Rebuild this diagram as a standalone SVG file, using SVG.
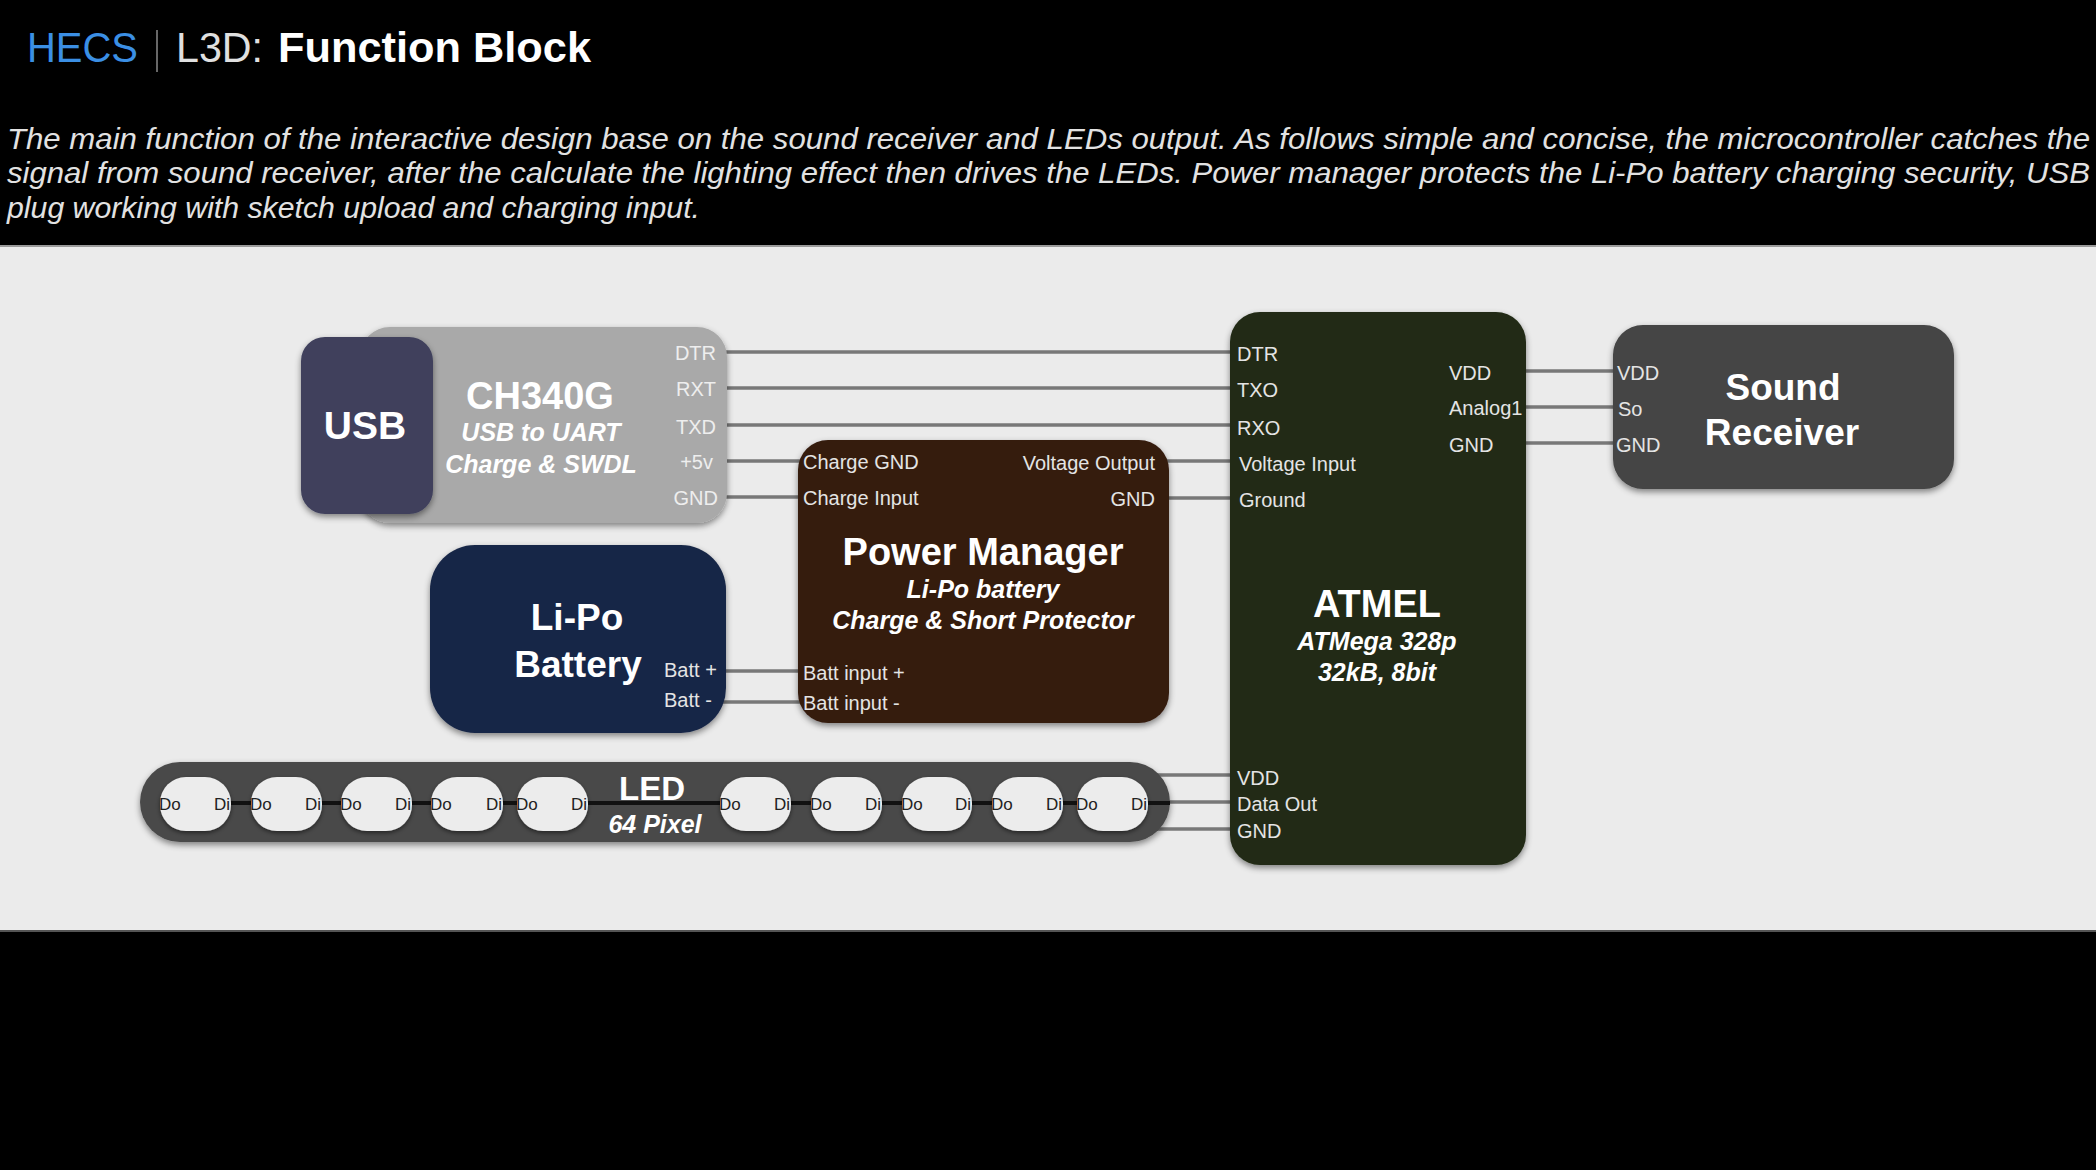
<svg xmlns="http://www.w3.org/2000/svg" width="2096" height="1170" viewBox="0 0 2096 1170">
<defs>
<filter id="sh" x="-10%" y="-10%" width="120%" height="130%">
<feDropShadow dx="0" dy="3" stdDeviation="3" flood-color="#000" flood-opacity="0.45"/>
</filter>
<filter id="sh2" x="-20%" y="-20%" width="140%" height="150%">
<feDropShadow dx="0" dy="2" stdDeviation="2" flood-color="#000" flood-opacity="0.5"/>
</filter>
</defs>
<style>
text{font-family:"Liberation Sans",Arial,Helvetica,sans-serif}
.pin{font-size:20px;fill:#e4e4e4}
.pinc{font-size:20px;fill:#eeeeee}
.ttl{font-weight:bold;fill:#ffffff;text-anchor:middle}
.sub{font-weight:bold;font-style:italic;fill:#ffffff;text-anchor:middle;font-size:25px}
.wire{stroke:#787878;stroke-width:3.5;fill:none}
.chain{stroke:#111;stroke-width:4;fill:none}
.px{fill:#ececec;filter:url(#sh2)}
.pl{font-size:17px;fill:#222}
.para{font-style:italic;font-size:29px;fill:#e2e2e2}
</style>
<rect x="0" y="0" width="2096" height="1170" fill="#000"/>
<rect x="0" y="245" width="2096" height="687" fill="#ebebeb"/>
<line x1="0" y1="246" x2="2096" y2="246" stroke="#9a9a9a" stroke-width="2"/>
<line x1="0" y1="931" x2="2096" y2="931" stroke="#555" stroke-width="2"/>

<g id="title">
<text x="27" y="62" font-family="Roboto,'Liberation Sans',sans-serif" font-weight="300" font-size="42" fill="#3b8fe4" textLength="111" lengthAdjust="spacingAndGlyphs">HECS</text>
<line x1="157" y1="30" x2="157" y2="72" stroke="#8a8a8a" stroke-width="1.5"/>
<text x="176" y="62" font-family="Roboto,'Liberation Sans',sans-serif" font-weight="300" font-size="42" fill="#e0e0e0" textLength="87" lengthAdjust="spacingAndGlyphs">L3D:</text>
<text x="278" y="62" font-weight="bold" font-size="42" fill="#ffffff" textLength="313" lengthAdjust="spacingAndGlyphs">Function Block</text>
</g>
<g id="description">
<text class="para" x="7" y="149" textLength="2083" lengthAdjust="spacingAndGlyphs">The main function of the interactive design base on the sound receiver and LEDs output. As follows simple and concise, the microcontroller catches the</text>
<text class="para" x="7" y="183" textLength="2083" lengthAdjust="spacingAndGlyphs">signal from sound receiver, after the calculate the lighting effect then drives the LEDs. Power manager protects the Li-Po battery charging security, USB</text>
<text class="para" x="7" y="218" textLength="693" lengthAdjust="spacingAndGlyphs">plug working with sketch upload and charging input.</text>
</g>

<g id="connectors">
<line class="wire" x1="720" y1="352" x2="1236" y2="352"/>
<line class="wire" x1="720" y1="388" x2="1236" y2="388"/>
<line class="wire" x1="720" y1="425" x2="1236" y2="425"/>
<line class="wire" x1="720" y1="461" x2="805" y2="461"/>
<line class="wire" x1="720" y1="497" x2="805" y2="497"/>
<line class="wire" x1="1160" y1="461" x2="1236" y2="461"/>
<line class="wire" x1="1160" y1="498" x2="1236" y2="498"/>
<line class="wire" x1="720" y1="671" x2="805" y2="671"/>
<line class="wire" x1="720" y1="702" x2="805" y2="702"/>
<line class="wire" x1="1520" y1="371" x2="1620" y2="371"/>
<line class="wire" x1="1520" y1="407" x2="1620" y2="407"/>
<line class="wire" x1="1520" y1="443" x2="1620" y2="443"/>
<line class="wire" x1="1150" y1="775" x2="1236" y2="775"/>
<line class="wire" x1="1150" y1="802" x2="1236" y2="802"/>
<line class="wire" x1="1150" y1="829" x2="1236" y2="829"/>
</g>

<g id="ch340g">
<rect x="360" y="327" width="367" height="196" rx="30" fill="#a9a9a9" filter="url(#sh)"/>
<text class="ttl" x="540" y="409" font-size="38">CH340G</text>
<text class="sub" x="541" y="441">USB to UART</text>
<text class="sub" x="541" y="473">Charge &amp; SWDL</text>
<text class="pinc" x="716" y="360" text-anchor="end">DTR</text>
<text class="pinc" x="716" y="396" text-anchor="end">RXT</text>
<text class="pinc" x="716" y="434" text-anchor="end">TXD</text>
<text class="pinc" x="713" y="469" text-anchor="end">+5v</text>
<text class="pinc" x="718" y="505" text-anchor="end">GND</text>
</g>

<g id="usb">
<rect x="301" y="337" width="132" height="177" rx="24" fill="#3f405c" filter="url(#sh)"/>
<text class="ttl" x="365" y="439" font-size="39">USB</text>
</g>

<g id="lipo">
<rect x="430" y="545" width="296" height="188" rx="45" fill="#172646" filter="url(#sh)"/>
<text class="ttl" x="577" y="630" font-size="37">Li-Po</text>
<text class="ttl" x="578" y="677" font-size="37">Battery</text>
<text class="pin" x="664" y="677">Batt +</text>
<text class="pin" x="664" y="707">Batt -</text>
</g>

<g id="power-manager">
<rect x="798" y="440" width="371" height="283" rx="30" fill="#351c11" filter="url(#sh)"/>
<text class="pin" x="803" y="469">Charge GND</text>
<text class="pin" x="803" y="505">Charge Input</text>
<text class="pin" x="1155" y="470" text-anchor="end">Voltage Output</text>
<text class="pin" x="1155" y="506" text-anchor="end">GND</text>
<text class="ttl" x="983" y="565" font-size="38">Power Manager</text>
<text class="sub" x="983" y="598">Li-Po battery</text>
<text class="sub" x="983" y="629">Charge &amp; Short Protector</text>
<text class="pin" x="803" y="680">Batt input +</text>
<text class="pin" x="803" y="710">Batt input -</text>
</g>

<g id="atmel">
<rect x="1230" y="312" width="296" height="553" rx="30" fill="#212a15" filter="url(#sh)"/>
<text class="pin" x="1237" y="361">DTR</text>
<text class="pin" x="1237" y="397">TXO</text>
<text class="pin" x="1237" y="435">RXO</text>
<text class="pin" x="1239" y="471">Voltage Input</text>
<text class="pin" x="1239" y="507">Ground</text>
<text class="pin" x="1449" y="380">VDD</text>
<text class="pin" x="1449" y="415">Analog1</text>
<text class="pin" x="1449" y="452">GND</text>
<text class="ttl" x="1377" y="617" font-size="38">ATMEL</text>
<text class="sub" x="1377" y="650">ATMega 328p</text>
<text class="sub" x="1377" y="681">32kB, 8bit</text>
<text class="pin" x="1237" y="785">VDD</text>
<text class="pin" x="1237" y="811">Data Out</text>
<text class="pin" x="1237" y="838">GND</text>
</g>

<g id="sound-receiver">
<rect x="1613" y="325" width="341" height="164" rx="30" fill="#444444" filter="url(#sh)"/>
<text class="pin" x="1617" y="380">VDD</text>
<text class="pin" x="1618" y="416">So</text>
<text class="pin" x="1616" y="452">GND</text>
<text class="ttl" x="1783" y="400" font-size="37">Sound</text>
<text class="ttl" x="1782" y="445" font-size="37">Receiver</text>
</g>

<g id="led">
<rect x="140" y="762" width="1030" height="80" rx="40" fill="#4a4a4a" filter="url(#sh)"/>
<path class="chain" d="M231 803H251M322 803H341M412 803H431M503 803H517M588 803H720M791 803H811M882 803H902M972 803H992M1063 803H1077M1148 803H1170"/>
<rect class="px" x="160" y="777" width="71" height="54" rx="26"/>
<rect class="px" x="251" y="777" width="71" height="54" rx="26"/>
<rect class="px" x="341" y="777" width="71" height="54" rx="26"/>
<rect class="px" x="431" y="777" width="72" height="54" rx="26"/>
<rect class="px" x="517" y="777" width="71" height="54" rx="26"/>
<rect class="px" x="720" y="777" width="71" height="54" rx="26"/>
<rect class="px" x="811" y="777" width="71" height="54" rx="26"/>
<rect class="px" x="902" y="777" width="70" height="54" rx="26"/>
<rect class="px" x="992" y="777" width="71" height="54" rx="26"/>
<rect class="px" x="1077" y="777" width="71" height="54" rx="26"/>
<g class="pl">
<text x="159" y="810">Do</text><text x="230" y="810" text-anchor="end">Di</text>
<text x="250" y="810">Do</text><text x="321" y="810" text-anchor="end">Di</text>
<text x="340" y="810">Do</text><text x="411" y="810" text-anchor="end">Di</text>
<text x="430" y="810">Do</text><text x="502" y="810" text-anchor="end">Di</text>
<text x="516" y="810">Do</text><text x="587" y="810" text-anchor="end">Di</text>
<text x="719" y="810">Do</text><text x="790" y="810" text-anchor="end">Di</text>
<text x="810" y="810">Do</text><text x="881" y="810" text-anchor="end">Di</text>
<text x="901" y="810">Do</text><text x="971" y="810" text-anchor="end">Di</text>
<text x="991" y="810">Do</text><text x="1062" y="810" text-anchor="end">Di</text>
<text x="1076" y="810">Do</text><text x="1147" y="810" text-anchor="end">Di</text>
</g>
<text class="ttl" x="652" y="800" font-size="33">LED</text>
<text class="sub" x="655" y="833" font-size="22">64 Pixel</text>
</g>
</svg>
